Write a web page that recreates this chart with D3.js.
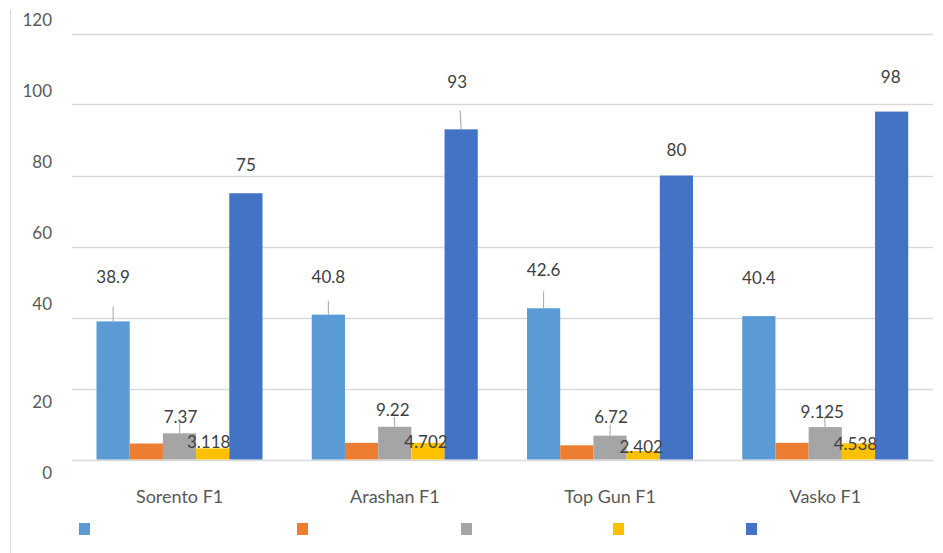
<!DOCTYPE html>
<html>
<head>
<meta charset="utf-8">
<script src="https://cdn.jsdelivr.net/npm/d3@7"></script>
<style>
  body { margin: 0; background: #fff; }
  svg { display: block; font-family: Lato, 'Open Sans', sans-serif; }
</style>
</head>
<body>
<svg id="chart" width="943" height="553"></svg>
<script>
// data
const categories = ['Sorento F1', 'Arashan F1', 'Top Gun F1', 'Vasko F1'];
const seriesNames = ['s1', 's2', 's3', 's4', 's5'];
const s1 = [38.9, 40.8, 42.6, 40.4];
const s2 = [4.5, 4.7, 4.0, 4.7];
const s3 = [7.37, 9.22, 6.72, 9.125];
const s4 = [3.118, 4.702, 2.402, 4.538];
const s5 = [75, 93, 80, 98];
const yTicks = [0, 20, 40, 60, 80, 100, 120];

const seriesValues = [s1, s2, s3, s4, s5];
const colors = ['#5B9BD5', '#ED7D31', '#A5A5A5', '#FFC000', '#4472C4'];
const showLabel = [true, false, true, true, true];

// label placement (text centre relative to bar top) and leader line length, as moved in the original
const labelDy = [
  [-44, -38, -38, -38],
  [0, 0, 0, 0],
  [-16, -17, -19, -15],
  [-6, -1, -4, 1],
  [-28, -47, -25, -35]
];
const labelDx = [
  [0, 0, 0, 0],
  [0, 0, 0, 0],
  [1, -2, 1, -3],
  [-4, -2, -2, -3],
  [0, -4, 0, -1]
];
const leaderLen = [
  [15, 14, 17, 0],
  [0, 0, 0, 0],
  [11, 10, 11, 10],
  [0, 0, 0, 0],
  [0, 19, 0, 0]
];
const legendX = [79, 297, 461, 613, 746];

const svg = d3.select('#chart');
const textColor = '#595959';

const x0 = d3.scaleBand().domain(categories).range([72, 933]).padding(0);
const x1 = d3.scaleBand().domain(seriesNames).range([24.5, 190.5]).padding(0);
const y = d3.scaleLinear().domain([0, 120]).range([459.5, 33.5]);

// outer left border
svg.append('line')
  .attr('x1', 10.5).attr('x2', 10.5)
  .attr('y1', 10).attr('y2', 553)
  .attr('stroke', '#D9D9D9').attr('stroke-width', 1);

// gridlines
svg.append('g')
  .selectAll('line')
  .data(yTicks)
  .join('line')
  .attr('x1', 72).attr('x2', 933)
  .attr('y1', d => Math.round(y(d)) + 0.5)
  .attr('y2', d => Math.round(y(d)) + 0.5)
  .attr('stroke', '#D9D9D9')
  .attr('stroke-width', 1.5);

// y tick labels (upper ones sit above their line, lower ones below)
svg.append('g')
  .selectAll('text')
  .data(yTicks)
  .join('text')
  .attr('x', 52)
  .attr('y', d => y(d) + (d >= 40 ? -13.5 : 13.5))
  .attr('dy', '0.35em')
  .attr('text-anchor', 'end')
  .attr('font-size', 17)
  .attr('fill', textColor)
  .text(d => d);

// bars
const rows = [];
seriesValues.forEach((vals, si) => {
  vals.forEach((v, ci) => rows.push({ si, ci, v, cat: categories[ci], s: seriesNames[si] }));
});

const barX = d => x0(d.cat) + x1(d.s);

svg.append('g')
  .selectAll('rect')
  .data(rows)
  .join('rect')
  .attr('x', barX)
  .attr('y', d => y(d.v))
  .attr('width', x1.bandwidth())
  .attr('height', d => y(0) - y(d.v))
  .attr('fill', d => colors[d.si]);

// leader lines
svg.append('g')
  .selectAll('line')
  .data(rows.filter(d => leaderLen[d.si][d.ci] > 0))
  .join('line')
  .attr('x1', d => barX(d) + x1.bandwidth() / 2)
  .attr('x2', d => barX(d) + x1.bandwidth() / 2 + labelDx[d.si][d.ci] / 4)
  .attr('y1', d => y(d.v))
  .attr('y2', d => y(d.v) - leaderLen[d.si][d.ci])
  .attr('stroke', '#A6A6A6')
  .attr('stroke-width', 1);

// data labels
svg.append('g')
  .selectAll('text')
  .data(rows.filter(d => showLabel[d.si]))
  .join('text')
  .attr('x', d => barX(d) + x1.bandwidth() / 2 + labelDx[d.si][d.ci])
  .attr('y', d => y(d.v) + labelDy[d.si][d.ci])
  .attr('dy', '0.35em')
  .attr('text-anchor', 'middle')
  .attr('font-size', 17)
  .attr('fill', '#404040')
  .text(d => d.v);

// category labels
svg.append('g')
  .selectAll('text')
  .data(categories)
  .join('text')
  .attr('x', d => x0(d) + x0.bandwidth() / 2)
  .attr('y', 497)
  .attr('dy', '0.35em')
  .attr('text-anchor', 'middle')
  .attr('font-size', 18)
  .attr('fill', textColor)
  .text(d => d);

// legend (markers only, the series have no names)
svg.append('g')
  .selectAll('rect')
  .data(seriesNames)
  .join('rect')
  .attr('x', (d, i) => legendX[i])
  .attr('y', 523)
  .attr('width', 11)
  .attr('height', 12)
  .attr('fill', (d, i) => colors[i]);
</script>
</body>
</html>
